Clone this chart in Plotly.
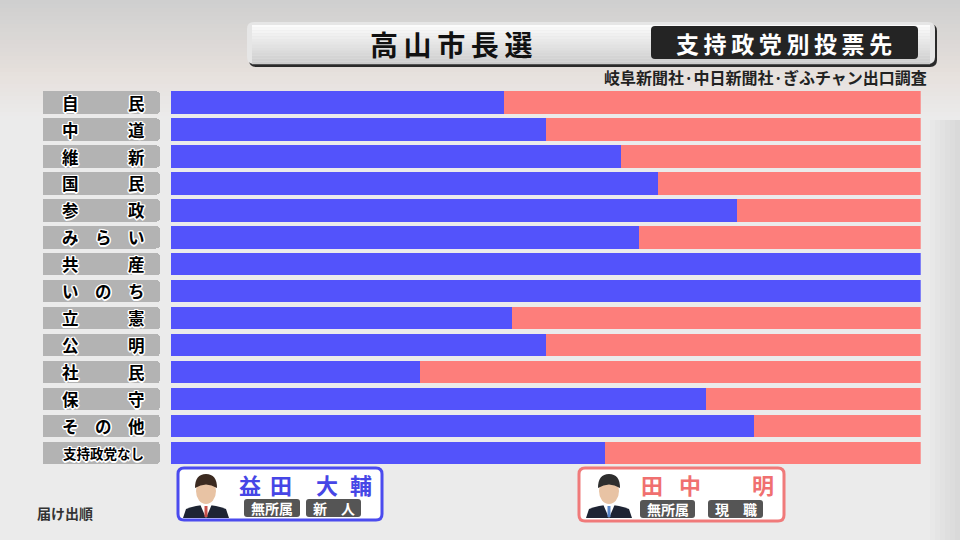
import plotly.graph_objects as go

# data
parties = ["自民", "中道", "維新", "国民", "参政", "みらい", "共産", "いのち",
           "立憲", "公明", "社民", "保守", "その他", "支持政党なし"]
masuda = [44.4, 50.0, 60.0, 65.0, 75.5, 62.5, 100.0, 100.0, 45.5, 50.0, 33.3, 71.4, 77.8, 57.9]
tanaka = [55.6, 50.0, 40.0, 35.0, 24.5, 37.5, 0.0, 0.0, 54.5, 50.0, 66.7, 28.6, 22.2, 42.1]

title = "高山市長選"
subtitle = "支持政党別投票先"
source = "岐阜新聞社·中日新聞社·ぎふチャン出口調査"
order_note = "届け出順"
name_a = "益田大輔"
name_b = "田中明"
badge_txt = ["無所属", "新　人", "無所属", "現　職"]

BLUE = "#5353fb"
RED = "#fd7e7b"
FONT = "Noto Sans CJK JP"
W, H = 960, 540
OUTLINE = ("-1px -1px 0 #fff, 1px -1px 0 #fff, -1px 1px 0 #fff, 1px 1px 0 #fff, "
           "0 -1.5px 0 #fff, 0 1.5px 0 #fff, -1.5px 0 0 #fff, 1.5px 0 0 #fff")


def px(x):
    return x / W


def py(y):
    return 1 - y / H


def rrect(x0, y0, x1, y1, r, fill, line=None, lw=0):
    p = (f"M {px(x0 + r)},{py(y0)} L {px(x1 - r)},{py(y0)} Q {px(x1)},{py(y0)} {px(x1)},{py(y0 + r)} "
         f"L {px(x1)},{py(y1 - r)} Q {px(x1)},{py(y1)} {px(x1 - r)},{py(y1)} "
         f"L {px(x0 + r)},{py(y1)} Q {px(x0)},{py(y1)} {px(x0)},{py(y1 - r)} "
         f"L {px(x0)},{py(y0 + r)} Q {px(x0)},{py(y0)} {px(x0 + r)},{py(y0)} Z")
    return dict(type="path", path=p, xref="paper", yref="paper", fillcolor=fill,
                line=dict(color=line or fill, width=lw), layer="below")


def label_text(s):
    if len(s) == 2:
        return s[0] + "　　　" + s[1]
    if len(s) == 3:
        return "　".join(s)
    return s


def mix(c1, c2, t):
    a = [int(c1[i:i + 2], 16) for i in (1, 3, 5)]
    b = [int(c2[i:i + 2], 16) for i in (1, 3, 5)]
    return "#" + "".join(f"{round(a[k] + (b[k] - a[k]) * t):02x}" for k in range(3))


def note(text, x, y, size, color, **kw):
    return dict(text=text, x=px(x), y=py(y), xref="paper", yref="paper", showarrow=False,
                xanchor=kw.pop("xanchor", "center"), yanchor="middle",
                font=dict(family=FONT, size=size, color=color, weight=700, **kw))


shapes = []
# background gradient
for i in range(30):
    y0 = i * 4
    t = i / 29
    c = mix("#cfcfcf", "#e6e0dc", min(1, t * 1.6)) if t < 0.6 else mix("#e6e0dc", "#ebebeb", (t - 0.6) / 0.4)
    shapes.append(dict(type="rect", xref="paper", yref="paper", x0=0, x1=1, y0=py(y0 + 4), y1=py(y0),
                       fillcolor=c, line=dict(width=0), layer="below"))
for i in range(6):
    shapes.append(dict(type="rect", xref="paper", yref="paper", x0=px(930 + i * 5), x1=1, y0=0, y1=py(120),
                       fillcolor="rgba(0,0,0,0.012)", line=dict(width=0), layer="below"))

# title bar
shapes.append(rrect(249, 24, 937, 67, 7, "#2a2a2a"))
shapes.append(rrect(247, 22, 935, 64, 7, "#e6e6e6"))
for i in range(14):
    y0 = 25 + i * 2.8
    shapes.append(dict(type="rect", xref="paper", yref="paper", x0=px(252), x1=px(930), y0=py(y0 + 2.8), y1=py(y0),
                       fillcolor=mix("#fbfbfb", "#cdcdcd", i / 13), line=dict(width=0), layer="below"))
shapes.append(rrect(651, 26, 918, 59, 4, "#242424"))

# candidate boxes
shapes.append(rrect(178, 468, 382, 520, 6, "white", "#4b4bee", 3))
shapes.append(rrect(579, 468, 784, 521, 6, "white", "#f07a7a", 3))
badges = [(244, 300, 499, 517), (306, 361, 499, 517), (640, 695, 500, 518), (708, 763, 500, 518)]
for x0, x1, y0, y1 in badges:
    shapes.append(rrect(x0, y0, x1, y1, 3, "#555555"))


# simple portrait silhouettes
def portrait(cx, top, hair, tie):
    out = []
    out.append(dict(type="path", xref="paper", yref="paper", layer="above", line=dict(width=0), fillcolor="#1e2433",
                    path=f"M {px(cx - 23)},{py(top + 47)} L {px(cx - 20)},{py(top + 38)} Q {px(cx)},{py(top + 30)} "
                         f"{px(cx + 20)},{py(top + 38)} L {px(cx + 23)},{py(top + 47)} Z"))
    out.append(dict(type="path", xref="paper", yref="paper", layer="above", line=dict(width=0), fillcolor="white",
                    path=f"M {px(cx - 6)},{py(top + 33)} L {px(cx + 6)},{py(top + 33)} L {px(cx)},{py(top + 47)} Z"))
    out.append(dict(type="path", xref="paper", yref="paper", layer="above", line=dict(width=0), fillcolor=tie,
                    path=f"M {px(cx - 1.5)},{py(top + 35)} L {px(cx + 1.5)},{py(top + 35)} L {px(cx + 1.5)},{py(top + 46)} "
                         f"L {px(cx - 1.5)},{py(top + 46)} Z"))
    out.append(dict(type="circle", xref="paper", yref="paper", layer="above", line=dict(width=0), fillcolor="#e8c3a4",
                    x0=px(cx - 10), x1=px(cx + 10), y0=py(top + 33), y1=py(top + 7)))
    out.append(dict(type="path", xref="paper", yref="paper", layer="above", line=dict(width=0), fillcolor=hair,
                    path=f"M {px(cx - 11)},{py(top + 17)} Q {px(cx - 11)},{py(top + 3)} {px(cx)},{py(top + 3)} "
                         f"Q {px(cx + 11)},{py(top + 3)} {px(cx + 11)},{py(top + 17)} Q {px(cx)},{py(top + 10)} "
                         f"{px(cx - 11)},{py(top + 17)} Z"))
    return out


shapes += portrait(206, 471, "#3b2a20", "#c8504a")
shapes += portrait(609, 471, "#2e2e2e", "#5a86c8")

fig = go.Figure()
fig.add_trace(go.Bar(y=parties, x=masuda, orientation="h", marker=dict(color=BLUE, line=dict(width=0)),
                     name="益田大輔", hoverinfo="skip"))
fig.add_trace(go.Bar(y=parties, x=tanaka, orientation="h", marker=dict(color=RED, line=dict(width=0)),
                     name="田中明", hoverinfo="skip"))
# party label boxes
fig.add_trace(go.Bar(y=parties, x=[1] * len(parties), orientation="h", xaxis="x2",
                     marker=dict(color="#b3b3b3", cornerradius=4, line=dict(width=0)),
                     hoverinfo="skip"))

ann = []
for p in parties:
    ann.append(dict(text=label_text(p), x=px(103.5), y=p, xref="paper", yref="y", showarrow=False,
                    xanchor="center", yanchor="middle",
                    font=dict(family=FONT, size=16.5 if len(p) < 4 else 13.5, color="black", weight=700,
                              shadow=OUTLINE)))
ann.append(note("\u2009".join(title), 451, 44, 28, "#111"))
ann.append(note("\u2009".join(subtitle), 784, 42.5, 23, "white"))
ann.append(note(source, 929, 77, 16, "#222", xanchor="right"))
ann.append(note(order_note, 65, 513, 14, "#333"))
# candidate names, one glyph at a time to keep the broadcast spacing
for ch, x in zip(name_a, [250, 281, 327, 361]):
    ann.append(note(ch, x, 484, 22, "#4646e6"))
for ch, x in zip(name_b, [652, 690, 763]):
    ann.append(note(ch, x, 484, 22, "#f07070"))
for (x0, x1, y0, y1), t in zip(badges, badge_txt):
    ann.append(note(t, (x0 + x1) / 2, (y0 + y1) / 2, 14, "white"))

fig.update_layout(
    width=W, height=H,
    margin=dict(l=0, r=0, t=0, b=0),
    paper_bgcolor="#ebebeb", plot_bgcolor="rgba(0,0,0,0)",
    barmode="stack", bargap=0.17,
    showlegend=False, hovermode=False,
    xaxis=dict(domain=[px(170.7), px(920.7)], range=[0, 100], visible=False, fixedrange=True),
    xaxis2=dict(domain=[px(43), px(160)], range=[0, 1], visible=False, anchor="y"),
    yaxis=dict(domain=[py(466.4), py(88.6)], autorange="reversed", visible=False),
    shapes=shapes, annotations=ann,
    font=dict(family=FONT),
)

fig.write_html("out.html", config={"displayModeBar": False},
               post_script="document.body.style.margin='0px';")
